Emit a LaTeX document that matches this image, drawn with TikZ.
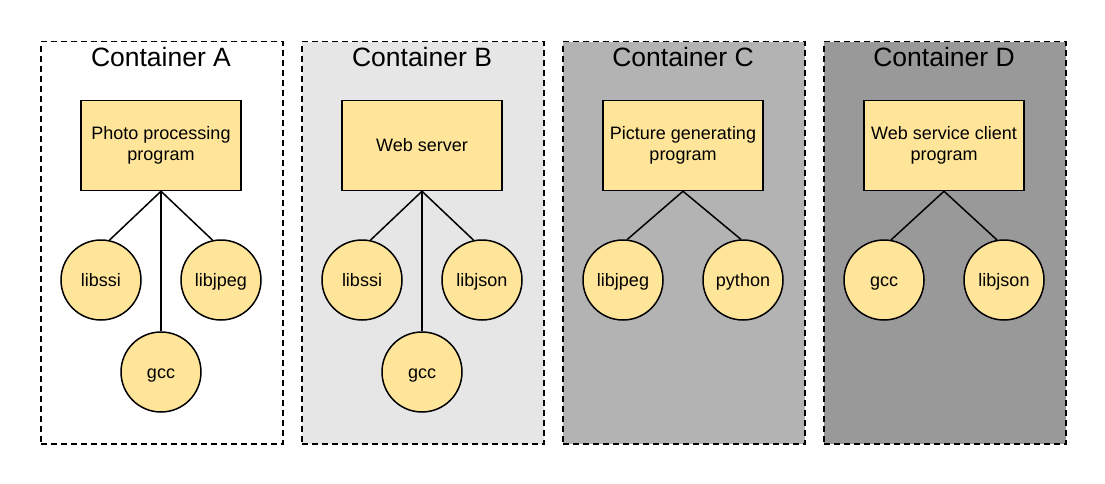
\documentclass[tikz,border=0pt]{standalone}
\usepackage{fontspec}
\setmainfont{Liberation Sans}
\usetikzlibrary{positioning}
\definecolor{libfill}{HTML}{FFE599}
\definecolor{greyB}{HTML}{E6E6E6}
\definecolor{greyC}{HTML}{B3B3B3}
\definecolor{greyD}{HTML}{999999}

\begin{document}
\begin{tikzpicture}[
    x=1pt, y=-1pt,
    container/.style={ draw=black,
      line width=1.5pt,
      dash pattern=on 6pt off 4pt,
      anchor=north west,
      inner sep=0pt,
      minimum width=242pt,
      minimum height=402pt},
    title/.style={anchor=base, font=\fontsize{26.5}{31}\selectfont},
    prog/.style={ draw=black, fill=libfill,
      line width=1.5pt,
      align=center,
      inner sep=2pt,
      minimum width=160pt,
      minimum height=90pt,
      font=\fontsize{18}{21.5}\selectfont},
    lib/.style={ draw=black, fill=libfill,
      circle,
      line width=1.5pt,
      inner sep=0pt,
      text height=16pt,
      text depth=4pt,
      minimum size=80pt,
      font=\fontsize{18}{21.5}\selectfont},
    link/.style={line width=1.5pt}]
    \useasboundingbox (0,0) rectangle (1105,484);

    % containers
    \node[container] (A) at (40,41) {};
    \node[container, fill=greyB] (B) at (301,41) {};
    \node[container, fill=greyC] (C) at (562,41) {};
    \node[container, fill=greyD] (D) at (823,41) {};
    \node[title] (titleA) at (161,66.5) {Container A};
    \node[title] (titleB) at (422,66.5) {Container B};
    \node[title] (titleC) at (683,66.5) {Container C};
    \node[title] (titleD) at (944,66.5) {Container D};

    % programs
    \node[prog] (progA) at (161,145.5) {Photo processing\\program};
    \node[prog] (progB) at (422,145.5) {Web server};
    \node[prog] (progC) at (683,145.5) {Picture generating\\program};
    \node[prog] (progD) at (944,145.5) {Web service client\\program};

    % libraries
    \node[lib] (ssiA) at (101,280) {libssi};
    \node[lib] (jpegA) at (221,280) {libjpeg};
    \node[lib] (gccA) at (161,372) {gcc};
    \node[lib] (ssiB) at (362,280) {libssi};
    \node[lib] (jsonB) at (482,280) {libjson};
    \node[lib] (gccB) at (422,372) {gcc};
    \node[lib] (jpegC) at (623,280) {libjpeg};
    \node[lib] (pythonC) at (743,280) {python};
    \node[lib] (gccD) at (884,280) {gcc};
    \node[lib] (jsonD) at (1004,280) {libjson};

    \draw[link] (progA.south) -- (ssiA.78);
    \draw[link] (progA.south) -- (jpegA.102);
    \draw[link] (progA.south) -- (gccA.north);
    \draw[link] (progB.south) -- (ssiB.78);
    \draw[link] (progB.south) -- (jsonB.102);
    \draw[link] (progB.south) -- (gccB.north);
    \draw[link] (progC.south) -- (jpegC.84);
    \draw[link] (progC.south) -- (pythonC.93);
    \draw[link] (progD.south) -- (gccD.80);
    \draw[link] (progD.south) -- (jsonD.100);
\end{tikzpicture}
\end{document}
